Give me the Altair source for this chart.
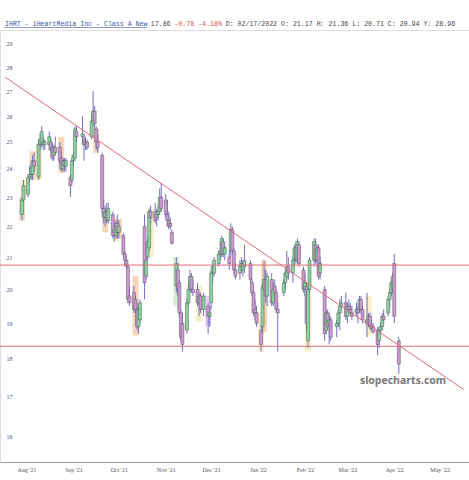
import altair as alt
import pandas as pd

# ---------------- data ----------------
dates = [
    "2021-07-29", "2021-07-30",
    "2021-08-02", "2021-08-03", "2021-08-04", "2021-08-05", "2021-08-06", "2021-08-09", "2021-08-10", "2021-08-11",
    "2021-08-12", "2021-08-13", "2021-08-16", "2021-08-17", "2021-08-18", "2021-08-19", "2021-08-20", "2021-08-23",
    "2021-08-24", "2021-08-25", "2021-08-26", "2021-08-27", "2021-08-30", "2021-08-31",
    "2021-09-01", "2021-09-02", "2021-09-03", "2021-09-07", "2021-09-08", "2021-09-09", "2021-09-10", "2021-09-13",
    "2021-09-14", "2021-09-15", "2021-09-16", "2021-09-17", "2021-09-20", "2021-09-21", "2021-09-22", "2021-09-23",
    "2021-09-24", "2021-09-27", "2021-09-28", "2021-09-29", "2021-09-30",
    "2021-10-01", "2021-10-04", "2021-10-05", "2021-10-06", "2021-10-07", "2021-10-08", "2021-10-11", "2021-10-12",
    "2021-10-13", "2021-10-14", "2021-10-15", "2021-10-18", "2021-10-19", "2021-10-20", "2021-10-21", "2021-10-22",
    "2021-10-25", "2021-10-26", "2021-10-27", "2021-10-28", "2021-10-29",
    "2021-11-01", "2021-11-02", "2021-11-03", "2021-11-04", "2021-11-05", "2021-11-08", "2021-11-09", "2021-11-10",
    "2021-11-11", "2021-11-12", "2021-11-15", "2021-11-16", "2021-11-17", "2021-11-18", "2021-11-19", "2021-11-22",
    "2021-11-23", "2021-11-24", "2021-11-26", "2021-11-29", "2021-11-30",
    "2021-12-01", "2021-12-02", "2021-12-03", "2021-12-06", "2021-12-07", "2021-12-08", "2021-12-09", "2021-12-10",
    "2021-12-13", "2021-12-14", "2021-12-15", "2021-12-16", "2021-12-17", "2021-12-20", "2021-12-21", "2021-12-22",
    "2021-12-23", "2021-12-27", "2021-12-28", "2021-12-29", "2021-12-30", "2021-12-31",
    "2022-01-03", "2022-01-04", "2022-01-05", "2022-01-06", "2022-01-07", "2022-01-10", "2022-01-11", "2022-01-12",
    "2022-01-13", "2022-01-14", "2022-01-18", "2022-01-19", "2022-01-20", "2022-01-21", "2022-01-24", "2022-01-25",
    "2022-01-26", "2022-01-27", "2022-01-28", "2022-01-31",
    "2022-02-01", "2022-02-02", "2022-02-03", "2022-02-04", "2022-02-07", "2022-02-08", "2022-02-09", "2022-02-10",
    "2022-02-11", "2022-02-14", "2022-02-15", "2022-02-16", "2022-02-17", "2022-02-18", "2022-02-22", "2022-02-23",
    "2022-02-24", "2022-02-25", "2022-02-28",
    "2022-03-01", "2022-03-02", "2022-03-03", "2022-03-04", "2022-03-07", "2022-03-08", "2022-03-09", "2022-03-10",
    "2022-03-11", "2022-03-14", "2022-03-15", "2022-03-16", "2022-03-17", "2022-03-18", "2022-03-21", "2022-03-22",
    "2022-03-23", "2022-03-24", "2022-03-25", "2022-03-28", "2022-03-29", "2022-03-30", "2022-03-31",
    "2022-04-01", "2022-04-04",
]

opens = [
    22.4, 22.9,
    23.1, 23.7, 23.8, 23.8, 24.3, 23.7, 24.9, 24.9, 25.0, 24.9, 24.9, 25.0, 24.8, 24.5, 24.8, 24.8, 24.4, 24.0, 24.3, 24.1, 23.7, 23.6,
    24.3, 24.4, 25.4, 25.2, 25.1, 24.9, 25.0, 25.2, 25.8, 26.2, 25.5, 25.0, 24.5, 22.6, 22.3, 22.5, 22.2, 22.4, 21.8, 21.7, 22.1,
    21.8, 21.7, 21.1, 20.9, 20.7, 19.8, 19.9, 19.7, 19.4, 18.9, 19.1, 22.0, 20.4, 21.0, 21.3, 22.5, 22.5, 22.3, 22.4, 22.5, 23.0,
    22.9, 22.4, 22.2, 22.1, 21.8, 20.1, 20.6, 20.2, 19.3, 19.0, 18.8, 19.6, 20.0, 20.4, 20.0, 20.0, 19.6, 19.8, 19.4, 19.5, 19.2,
    19.6, 20.5, 20.5, 20.8, 21.1, 21.1, 21.5, 21.1, 21.0, 21.2, 21.9, 21.2, 20.6, 20.5, 20.7, 20.6, 20.7, 20.8, 20.2, 19.9, 19.4, 19.3,
    18.8, 18.9, 20.0, 20.3, 19.8, 20.3, 19.6, 20.1, 19.9, 19.4, 19.9, 20.2, 20.4, 20.7, 20.5, 20.9, 21.3, 20.9, 21.4, 20.6,
    20.0, 20.1, 18.5, 20.0, 20.9, 21.4, 20.9, 21.3, 20.5, 20.0, 18.8, 19.3, 19.0, 19.1, 18.9, 19.0, 19.3, 19.5, 19.6,
    19.2, 19.5, 19.4, 19.3, 19.3, 19.4, 19.4, 19.7, 19.4, 19.1, 19.0, 19.2, 18.95, 18.9, 18.8, 18.5, 18.8, 18.9, 19.2, 19.3, 19.7, 19.9, 20.0,
    20.8, 18.5,
]

highs = [
    23.0, 23.6,
    23.8, 24.1, 24.2, 24.5, 24.6, 25.1, 25.3, 25.6, 25.2, 25.1, 25.4, 25.2, 25.0, 24.9, 25.2, 25.0, 24.6, 24.4, 24.4, 24.4, 23.8, 24.4,
    24.6, 25.6, 25.6, 26.0, 25.3, 25.2, 25.1, 26.1, 27.0, 26.4, 25.6, 25.3, 24.6, 22.9, 22.7, 22.8, 22.8, 22.5, 22.1, 22.2, 22.4,
    22.2, 21.8, 21.2, 21.0, 20.8, 20.1, 20.1, 19.8, 19.6, 19.5, 19.7, 22.4, 21.0, 21.6, 22.6, 22.7, 22.8, 22.6, 22.7, 23.3, 23.5,
    23.1, 22.9, 22.5, 22.3, 21.9, 21.0, 20.8, 20.3, 19.4, 19.3, 19.7, 20.2, 20.6, 20.5, 20.3, 20.2, 19.9, 19.9, 19.9, 19.6, 19.5,
    20.6, 20.8, 21.0, 21.2, 21.5, 21.7, 21.6, 21.4, 21.2, 22.1, 22.0, 21.3, 20.8, 20.9, 21.0, 20.9, 21.4, 20.9, 20.3, 20.0, 19.7, 19.5,
    18.95, 20.2, 20.9, 20.6, 20.5, 20.5, 20.2, 20.3, 20.0, 19.6, 20.3, 20.6, 21.2, 21.0, 21.0, 21.4, 21.5, 21.6, 21.5, 20.7,
    20.5, 20.2, 20.1, 21.0, 21.6, 21.6, 21.4, 21.4, 21.0, 20.1, 19.4, 19.4, 19.3, 19.2, 19.1, 19.4, 19.7, 19.8, 19.9,
    19.6, 19.7, 19.6, 19.5, 19.6, 19.5, 19.8, 19.8, 19.5, 19.9, 19.3, 19.3, 19.1, 19.0, 18.9, 18.9, 19.0, 19.3, 19.4, 19.8, 20.0, 20.3, 20.5,
    21.1, 18.6,
]

lows = [
    22.2, 22.8,
    23.0, 23.5, 23.6, 23.6, 23.9, 23.6, 24.7, 24.8, 24.7, 24.7, 24.7, 24.6, 24.3, 24.3, 24.5, 24.2, 23.9, 23.9, 23.9, 23.9, 23.0, 23.5,
    24.1, 24.3, 25.0, 24.9, 24.3, 24.7, 24.7, 25.1, 25.6, 25.5, 24.7, 24.6, 22.4, 22.1, 22.0, 22.1, 22.1, 21.6, 21.5, 21.6, 21.6,
    21.6, 21.0, 20.7, 20.6, 19.6, 19.5, 19.3, 19.3, 18.8, 18.7, 19.0, 19.7, 20.3, 20.9, 21.2, 22.1, 22.1, 22.0, 22.2, 22.4, 22.5,
    22.3, 22.0, 21.9, 21.9, 21.4, 19.9, 19.8, 19.2, 18.5, 18.2, 18.7, 19.5, 19.9, 19.9, 19.8, 19.5, 19.2, 19.3, 19.2, 18.7, 18.9,
    19.4, 20.2, 20.4, 20.7, 20.9, 21.0, 21.0, 20.9, 20.6, 21.0, 21.1, 20.5, 20.3, 20.3, 20.5, 20.4, 20.5, 20.2, 19.8, 19.2, 19.1, 18.9,
    18.2, 18.7, 19.8, 19.6, 19.5, 19.5, 19.5, 19.8, 19.3, 18.2, 19.8, 20.0, 20.3, 20.3, 20.2, 20.7, 20.8, 20.8, 20.7, 19.9,
    19.8, 18.8, 18.3, 19.9, 20.7, 20.8, 20.7, 20.3, 20.3, 18.5, 18.7, 18.8, 18.4, 18.5, 18.6, 18.9, 18.8, 19.4, 19.1,
    19.0, 19.3, 19.2, 19.1, 19.2, 19.0, 19.3, 19.3, 19.0, 18.6, 18.9, 18.8, 18.8, 18.7, 18.1, 18.3, 18.7, 18.8, 19.0, 19.2, 19.5, 19.8, 19.9,
    19.0, 17.6,
]

closes = [
    22.9, 23.4,
    23.7, 23.8, 24.0, 24.3, 24.1, 24.9, 25.1, 25.4, 24.9, 25.0, 25.2, 24.7, 24.4, 24.8, 24.6, 24.3, 24.0, 24.3, 24.1, 24.3, 23.4, 24.3,
    24.5, 25.5, 25.2, 25.3, 24.9, 25.0, 24.8, 25.8, 26.2, 25.7, 25.0, 24.8, 22.6, 22.3, 22.5, 22.2, 22.6, 21.7, 21.9, 22.1, 21.8,
    22.0, 21.1, 20.9, 20.75, 19.7, 19.6, 19.4, 19.4, 18.9, 19.4, 19.6, 20.2, 20.9, 21.5, 22.5, 22.3, 22.2, 22.4, 22.5, 23.0, 22.6,
    22.4, 22.2, 22.0, 22.0, 21.45, 20.8, 20.0, 19.3, 18.6, 18.4, 19.6, 20.0, 20.4, 20.0, 19.9, 19.6, 19.8, 19.4, 19.8, 19.2, 19.3,
    20.5, 20.7, 20.9, 21.1, 21.2, 21.6, 21.1, 21.3, 20.8, 21.9, 21.2, 20.6, 20.4, 20.7, 20.8, 20.8, 20.9, 20.3, 19.9, 19.3, 19.3, 19.0,
    18.4, 20.1, 20.3, 19.8, 20.4, 19.6, 20.0, 19.9, 19.4, 19.3, 20.2, 20.5, 20.7, 20.5, 20.9, 21.3, 20.9, 21.5, 20.8, 20.0,
    20.2, 19.0, 20.0, 20.9, 21.5, 20.9, 21.3, 20.4, 20.8, 18.7, 19.3, 18.9, 19.1, 18.6, 19.0, 19.3, 19.5, 19.6, 19.2,
    19.5, 19.4, 19.3, 19.2, 19.4, 19.3, 19.7, 19.4, 19.1, 19.0, 19.2, 18.9, 18.85, 18.75, 18.4, 18.8, 18.9, 19.2, 19.1, 19.7, 19.9, 20.2, 20.4,
    19.2, 17.86,
]

# highlighted pattern boxes
box_dates = ["2021-07-29", "2021-07-30", "2021-08-05", "2021-08-09", "2021-08-24", "2021-09-16", "2021-09-22",
             "2021-09-29", "2021-10-01", "2021-10-12", "2021-10-22", "2021-11-08", "2021-11-23", "2021-11-29",
             "2022-01-03", "2022-01-05", "2022-02-03", "2022-03-15"]
box_lows = [22.2, 23.0, 23.6, 23.6, 23.85, 24.6, 21.8, 21.5, 21.6, 18.65, 21.0, 19.5, 19.05, 18.9,
            18.2, 18.75, 18.2, 18.65]
box_highs = [23.0, 23.6, 24.65, 24.9, 25.2, 25.5, 22.5, 22.3, 22.25, 20.4, 22.6, 21.0, 20.1, 19.8,
             19.3, 20.9, 20.2, 19.8]
box_colors = ["#d9bf94", "#f7e3a3", "#f2b98a", "#f7e3a3", "#f2b98a", "#f2b98a", "#f2b98a",
              "#f7e3a3", "#f2b98a", "#f2b98a", "#f7e3a3", "#b9e6b4", "#f7e3a3", "#dcb0e8",
              "#f7e3a3", "#f2b98a", "#f7e3a3", "#f7e3a3"]

levels = [20.75, 18.35]
trend_dates = ["2021-07-17T18:30:00Z", "2022-05-17T02:00:00Z"]
trend_prices = [27.58, 17.18]

y_ticks = [16, 17, 18, 19, 20, 21, 22, 23, 24, 25, 26, 27, 28, 29]
month_ticks = [(2021, 8), (2021, 9), (2021, 10), (2021, 11), (2021, 12),
               (2022, 1), (2022, 2), (2022, 3), (2022, 4), (2022, 5)]

# ---------------- frames ----------------
df = pd.DataFrame({"date": dates, "open": opens, "high": highs, "low": lows, "close": closes})
df["dir"] = ["up" if c >= o else "down" for o, c in zip(opens, closes)]
boxes = pd.DataFrame({"date": box_dates, "lo": box_lows, "hi": box_highs, "col": box_colors})
lv = pd.DataFrame({"level": levels})
tr = pd.DataFrame({"date": trend_dates, "price": trend_prices})

xscale = alt.Scale(type="utc", domain=[alt.DateTime(year=2021, month=7, date=17, hours=18, minutes=30, utc=True),
                                       alt.DateTime(year=2022, month=5, date=17, hours=2, utc=True)])
yscale = alt.Scale(type="log", domain=[15.40, 29.62], nice=False, zero=False)

xaxis = alt.Axis(values=[alt.DateTime(year=y, month=m, date=1, utc=True) for y, m in month_ticks],
                 labelExpr="utcFormat(datum.value, \"%b '%y\")", ticks=False, grid=False, domainColor="#999999",
                 domainWidth=1, labelFontSize=6, labelFont="Liberation Serif", labelColor="#555555",
                 labelPadding=4, labelFlush=False, labelOverlap=False, title=None)
yaxis = alt.Axis(values=y_ticks, orient="left", labelAlign="left", labelPadding=-6, tickSize=0, ticks=False,
                 domain=False, grid=False, labelFontSize=6, labelFont="Liberation Serif", labelColor="#4a5070",
                 labelFlush=False, labelOverlap=False, labelBaseline="middle", title=None)

box_layer = alt.Chart(boxes).mark_bar(size=6, opacity=0.6).encode(
    x=alt.X("date:T", scale=xscale, axis=xaxis),
    y=alt.Y("lo:Q", scale=yscale, axis=yaxis),
    y2="hi:Q",
    color=alt.Color("col:N", scale=None),
)

wicks = alt.Chart(df).mark_rule(color="#7270c4", strokeWidth=1).encode(
    x=alt.X("date:T", scale=xscale),
    y=alt.Y("low:Q", scale=yscale),
    y2="high:Q",
)

bodies = alt.Chart(df).mark_bar(size=3, stroke="#555555", strokeWidth=0.5).encode(
    x=alt.X("date:T", scale=xscale),
    y=alt.Y("open:Q", scale=yscale),
    y2="close:Q",
    color=alt.Color("dir:N", scale=alt.Scale(domain=["up", "down"], range=["#86d6a0", "#cf96d8"]), legend=None),
)

hlines = alt.Chart(lv).mark_rule(color="#e26a78", strokeWidth=1).encode(
    y=alt.Y("level:Q", scale=yscale),
)

trend = alt.Chart(tr).mark_line(color="#e26a78", strokeWidth=1, clip=True).encode(
    x=alt.X("date:T", scale=xscale),
    y=alt.Y("price:Q", scale=yscale),
)

# ---------------- header text ----------------
cw = 3.94
def seg(text, col, color):
    return alt.Chart(pd.DataFrame({"t": [text]})).mark_text(
        align="left", baseline="middle", font="Liberation Mono", fontSize=6.6, color=color
    ).encode(x=alt.value(5 + col * cw), y=alt.value(-6), text="t:N")

h1 = seg("IHRT - iHeartMedia Inc - Class A New", 0, "#4455aa")
h2 = seg("17.86", 37, "#444444")
h3 = seg("-0.78 -4.18%", 43, "#e04848")
h4 = seg("D: 02/17/2022 O: 21.17 H: 21.36 L: 20.71 C: 20.94 Y: 28.96", 56, "#444444")
underline = alt.Chart(pd.DataFrame({"a": [0]})).mark_rule(color="#4455aa", strokeWidth=0.6).encode(
    x=alt.value(5), x2=alt.value(5 + 36 * cw), y=alt.value(-2.5)
)

watermark = alt.Chart(pd.DataFrame({"t": ["slopecharts.com"]})).mark_text(
    align="center", baseline="middle", font="Open Sans", fontWeight="bold", fontSize=10.5, color="#777777"
).encode(x=alt.value(403), y=alt.value(351), text="t:N")

chart = alt.layer(box_layer, wicks, bodies, hlines, trend, h1, h2, h3, h4, underline, watermark).properties(
    width=469, height=432,
    autosize=alt.AutoSizeParams(type="none"),
    padding={"left": 0, "top": 30, "right": 0, "bottom": 18},
).configure_view(stroke=None).configure(background="white")

chart.save("out.html", embed_options={"renderer": "svg", "actions": False})
